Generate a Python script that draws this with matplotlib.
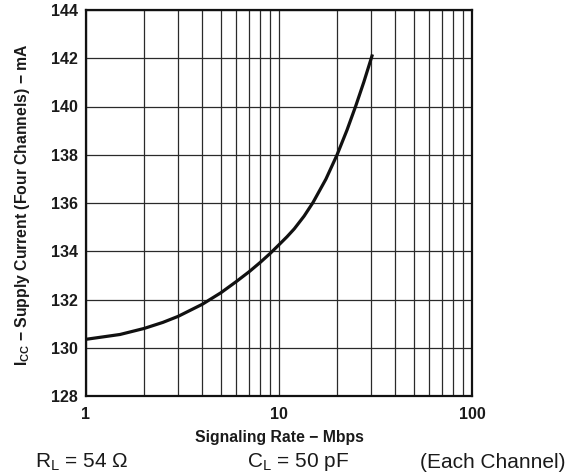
import matplotlib
matplotlib.use("Agg")
import matplotlib.pyplot as plt
from matplotlib.ticker import FixedLocator, NullFormatter

plt.rcParams['font.family'] = ['Liberation Sans', 'DejaVu Sans']
plt.rcParams['mathtext.fontset'] = 'custom'
plt.rcParams['mathtext.rm'] = 'Liberation Sans'
plt.rcParams['mathtext.bf'] = 'Liberation Sans:bold'
plt.rcParams['mathtext.it'] = 'Liberation Sans:italic'

# data
rate_mbps = [1, 1.5, 2, 2.5, 3, 4, 5, 6, 7, 8, 9, 10, 11, 12, 13.5, 15, 17.5, 20,
             22.5, 25, 27.5, 30.5]
icc_ma = [130.35, 130.55, 130.8, 131.05, 131.3, 131.8, 132.28, 132.74, 133.15, 133.54,
          133.91, 134.27, 134.6, 134.93, 135.46, 136.02, 136.99, 138.0, 139.02,
          140.03, 141.01, 142.16]
x_ticks = [1, 10, 100]
x_tick_labels = ['1', '10', '100']
y_ticks = [128, 130, 132, 134, 136, 138, 140, 142, 144]

fig = plt.figure(figsize=(5.85, 4.76), dpi=100)
ax = fig.add_axes([86/585, (476-396)/476, (472-86)/585, (396-10)/476])

ax.set_xscale('log')
ax.set_xlim(1, 100)
ax.set_ylim(128, 144)

minor = [m * d for d in (1, 10) for m in range(2, 10)]
ax.xaxis.set_major_locator(FixedLocator(x_ticks))
ax.xaxis.set_minor_locator(FixedLocator(minor))
ax.xaxis.set_minor_formatter(NullFormatter())
ax.set_xticklabels(x_tick_labels)
ax.set_yticks(y_ticks)

ax.grid(True, which='both', axis='x', color='#2a2a2a', linewidth=0.9)
ax.grid(True, which='major', axis='y', color='#2a2a2a', linewidth=0.9)
ax.set_axisbelow(True)

ax.plot(rate_mbps, icc_ma, color='#111111', linewidth=2.3, solid_capstyle='butt',
        solid_joinstyle='round')

for s in ax.spines.values():
    s.set_linewidth(1.6)
    s.set_color('#111111')

ax.tick_params(which='both', length=0)
ax.tick_params(axis='y', pad=6)
ax.tick_params(axis='x', pad=8)
for lbl in ax.get_xticklabels() + ax.get_yticklabels():
    lbl.set_fontweight('bold')
    lbl.set_fontsize(11.5)
    lbl.set_color('#1a1a1a')

ax.set_xlabel('Signaling Rate − Mbps', fontsize=11.3, fontweight='bold', labelpad=6, color='#1a1a1a')
ax.set_ylabel(r'I$_{\mathbf{CC}}$ − Supply Current (Four Channels) − mA', fontsize=11.3,
              fontweight='bold', color='#1a1a1a')
ax.yaxis.set_label_coords(-0.14, 0.495)

fig.text(35/585, 1 - 462/476, r'R$_{\mathrm{L}}$ = 54 Ω', fontsize=15, va='center', ha='left', color='#1a1a1a')
fig.text(247/585, 1 - 462/476, r'C$_{\mathrm{L}}$ = 50 pF', fontsize=15, va='center', ha='left', color='#1a1a1a')
fig.text(420/585, 1 - 462/476, '(Each Channel)', fontsize=15, va='center', ha='left', color='#1a1a1a')

fig.savefig('out.png', dpi=100)
